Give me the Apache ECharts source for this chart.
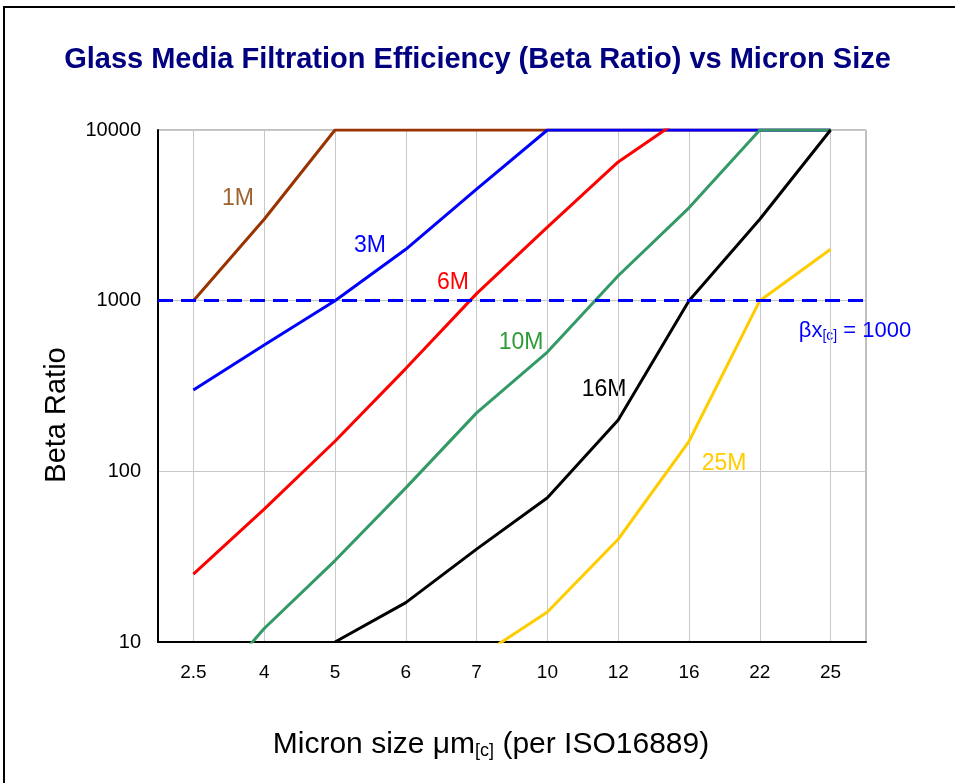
<!DOCTYPE html>
<html>
<head>
<meta charset="utf-8">
<script src="https://cdn.jsdelivr.net/npm/echarts@6/dist/echarts.min.js"></script>
<style>
  html, body { margin: 0; padding: 0; background: #fff; }
  #main { width: 955px; height: 783px; }
</style>
</head>
<body>
<div id="main"></div>
<script>
// micron sizes (category axis)
const micronSizes = ['2.5', '4', '5', '6', '7', '10', '12', '16', '22', '25']
const yTicks = [10, 100, 1000, 10000]

// beta ratio per media grade (values out of range get clipped)
const beta1M = [1000, 3000, 10000, 10000, 10000, 10000, 10000, 10000, 10000, 10000]
const beta3M = [300, 550, 1000, 2000, 4500, 10000, 10000, 10000, 10000, 10000]
const beta6M = [25, 60, 150, 400, 1100, 2700, 6500, 12500, null, null]
const beta10M = [4, 12, 30, 80, 220, 500, 1400, 3500, 10000, 10000]
const beta16M = [null, null, 10, 17, 35, 70, 200, 1000, 3000, 10000]
const beta25M = [null, null, null, null, 8, 15, 40, 150, 1000, 2000]
const betaTarget = 1000

const chart = echarts.init(document.getElementById('main'))

function lineSeries(name, data, color) {
  return {
    name: name,
    type: 'line',
    data: data,
    symbol: 'none',
    clip: true,
    connectNulls: false,
    lineStyle: { color: color, width: 3 },
    itemStyle: { color: color }
  }
}

const font = 'Liberation Sans, Arial, sans-serif'

// series name labels drawn on the plot
function tag(text, x, y, color) {
  return {
    type: 'text', x: x, y: y, silent: true,
    style: { text: text, fill: color, font: '23px ' + font, textAlign: 'center', textVerticalAlign: 'middle' }
  }
}

const option = {
  animation: false,
  backgroundColor: '#fff',
  title: {
    text: 'Glass Media Filtration Efficiency (Beta Ratio) vs Micron Size',
    left: 'center',
    top: 40,
    textStyle: { fontFamily: font, fontSize: 29, fontWeight: 'bold', color: '#000080' }
  },
  grid: {
    left: 158,
    right: 89,
    top: 130,
    bottom: 141,
    show: true,
    borderColor: '#808080',
    borderWidth: 1
  },
  xAxis: {
    type: 'category',
    data: micronSizes,
    boundaryGap: true,
    axisLine: { show: true, lineStyle: { color: '#000', width: 2 } },
    axisTick: { show: false },
    axisLabel: { fontFamily: font, fontSize: 19, color: '#000', margin: 21 },
    splitLine: { show: true, alignWithLabel: true, lineStyle: { color: '#c8c8c8', width: 1 } }
  },
  yAxis: {
    type: 'log',
    logBase: 10,
    min: yTicks[0],
    max: yTicks[yTicks.length - 1],
    axisLine: { show: true, lineStyle: { color: '#000', width: 2 } },
    axisTick: { show: false },
    axisLabel: {
      fontFamily: font,
      fontSize: 20,
      color: '#000',
      margin: 17,
      formatter: v => (yTicks.indexOf(Math.round(v)) >= 0 ? String(Math.round(v)) : '')
    },
    splitLine: { show: true, lineStyle: { color: '#c8c8c8', width: 1 } }
  },
  series: [
    lineSeries('1M', beta1M, '#993300'),
    lineSeries('3M', beta3M, '#0000ff'),
    lineSeries('6M', beta6M, '#ff0000'),
    lineSeries('10M', beta10M, '#339966'),
    lineSeries('16M', beta16M, '#000000'),
    lineSeries('25M', beta25M, '#ffcc00'),
    {
      name: 'target',
      type: 'line',
      data: [],
      markLine: {
        silent: true,
        symbol: 'none',
        label: { show: false },
        lineStyle: { color: '#0000ff', width: 3, type: [15, 8] },
        data: [{ yAxis: betaTarget }]
      }
    }
  ],
  graphic: [
    {
      type: 'rect',
      shape: { x: 4, y: 7, width: 980, height: 820 },
      style: { fill: 'none', stroke: '#000', lineWidth: 2 },
      silent: true
    },
    tag('1M', 238, 199, '#a0622d'),
    tag('3M', 370, 246, '#0000ff'),
    tag('6M', 453, 283, '#ff0000'),
    tag('10M', 521, 343, '#2e9b3a'),
    tag('16M', 604, 390, '#000000'),
    tag('25M', 724, 464, '#ffcc00'),
    {
      type: 'text',
      x: 855,
      y: 331,
      silent: true,
      style: {
        text: '{a|βx}{s|[c]}{a| = 1000}',
        fill: '#0000ff',
        textAlign: 'center',
        textVerticalAlign: 'middle',
        rich: {
          a: { fontFamily: font, fontSize: 22, fill: '#0000ff' },
          s: { fontFamily: font, fontSize: 14, fill: '#0000ff', padding: [10, 0, 0, 0] }
        }
      }
    },
    // axis titles
    {
      type: 'text',
      x: 57,
      y: 415,
      rotation: Math.PI / 2,
      silent: true,
      style: { text: 'Beta Ratio', fill: '#000', font: '29px ' + font, textAlign: 'center', textVerticalAlign: 'middle' }
    },
    {
      type: 'text',
      x: 491,
      y: 745,
      silent: true,
      style: {
        text: '{a|Micron size μm}{s|[c]}{a| (per ISO16889)}',
        fill: '#000',
        textAlign: 'center',
        textVerticalAlign: 'middle',
        rich: {
          a: { fontFamily: font, fontSize: 30, fill: '#000' },
          s: { fontFamily: font, fontSize: 18, fill: '#000', padding: [12, 0, 0, 0] }
        }
      }
    }
  ]
}

chart.setOption(option)
</script>
</body>
</html>
